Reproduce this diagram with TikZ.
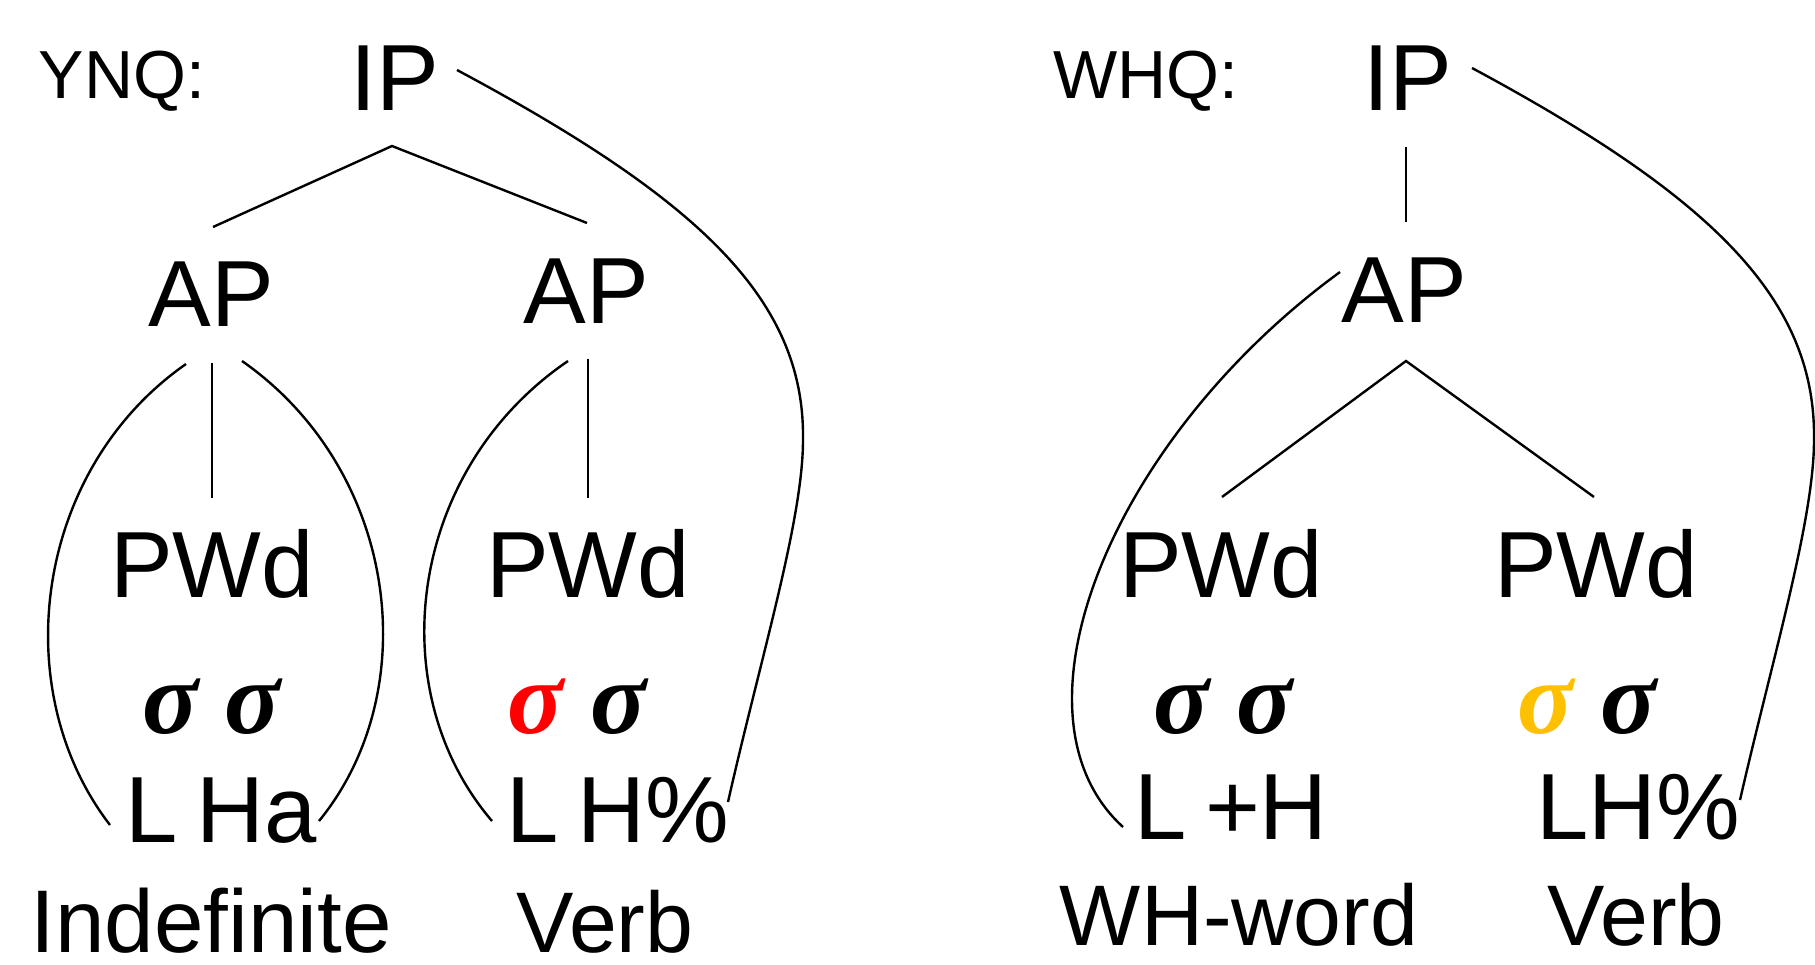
\documentclass[tikz,border=0pt]{standalone}
\usepackage{fontspec}
\setmainfont{Liberation Sans}
\newfontfamily\sigfont{Liberation Serif}
\definecolor{sigred}{RGB}{255,0,0}
\definecolor{siggold}{RGB}{255,192,0}
\tikzset{
  lbl/.style={inner sep=0pt, anchor=base, font=\fontsize{94}{100}\selectfont},
  qlbl/.style={inner sep=0pt, anchor=base, font=\fontsize{68}{72}\selectfont},
  wlbl/.style={inner sep=0pt, anchor=base, text depth=0pt, font=\fontsize{86}{90}\selectfont},
  sig/.style={inner sep=0pt, anchor=base, font=\sigfont\bfseries\itshape\fontsize{104}{110}\selectfont},
  ln/.style={line width=2.4pt, black}
}
\begin{document}
\begin{tikzpicture}[x=1pt,y=-1pt]
\useasboundingbox (0,0) rectangle (1815,964);
% ---------- left tree (YNQ) ----------
\node[qlbl] (ynq) at (122,98) {YNQ:};
\node[lbl] (ip1) at (395,110) {IP};
\node[lbl] (ap1) at (211,326) {AP};
\node[lbl] (ap2) at (586,323) {AP};
\node[lbl] (pwd1) at (212,597) {PWd};
\node[lbl] (pwd2) at (588,597) {PWd};
\node[sig] (sg1) at (212,733) {σ σ};
\node[sig] (sg2) at (577,733) {\textcolor{sigred}{σ} σ};
\node[lbl] (t1) at (221,842) {L\hspace{0.2em}Ha};
\node[lbl] (t2) at (618,842) {L\hspace{0.2em}H\%};
\node[wlbl, font=\fontsize{89}{90}\selectfont] (w1) at (211,952) {Indefinite};
\node[wlbl] (w2) at (605,952) {Verb};
% connectors
\coordinate (apexA) at (392,146);
\coordinate (ap1top) at (213,227);
\coordinate (ap2top) at (587,223);
\draw[ln] (ap1top) -- (apexA) -- (ap2top);
\coordinate (ap1v) at (212,363);
\coordinate (pwd1v) at (212,498);
\draw[ln] (ap1v) -- (pwd1v);
\coordinate (ap2v) at (588,359);
\coordinate (pwd2v) at (588,498);
\draw[ln] (ap2v) -- (pwd2v);
\coordinate (a1l0) at (186,364);
\coordinate (a1l1) at (110,825);
\draw[ln] (a1l0) .. controls (34,470) and (6,690) .. (a1l1);
\coordinate (a1r0) at (242,361);
\coordinate (a1r1) at (319,821);
\draw[ln] (a1r0) .. controls (398,470) and (426,690) .. (a1r1);
\coordinate (a2l0) at (568,361);
\coordinate (a2l1) at (492,821);
\draw[ln] (a2l0) .. controls (408,470) and (380,690) .. (a2l1);
\coordinate (ipc0) at (457,70);
\coordinate (ipcm) at (803,440);
\coordinate (ipc1) at (728,802);
\draw[ln] (ipc0) .. controls (700,200) and (805,300) .. (ipcm) .. controls (803,520) and (760,660) .. (ipc1);
% ---------- right tree (WHQ) ----------
\node[qlbl] (whq) at (1146,98) {WHQ:};
\node[lbl] (ip2) at (1408,110) {IP};
\node[lbl] (ap3) at (1404,322) {AP};
\node[lbl] (pwd3) at (1221,597) {PWd};
\node[lbl] (pwd4) at (1596,597) {PWd};
\node[sig] (sg3) at (1223,733) {σ σ};
\node[sig] (sg4) at (1587,733) {\textcolor{siggold}{σ} σ};
\node[lbl] (t3) at (1231,839) {L\hspace{0.2em}+H};
\node[lbl] (t4) at (1638,839) {LH\%};
\node[wlbl] (w3) at (1239,945) {WH-word};
\node[wlbl] (w4) at (1636,945) {Verb};
\coordinate (ip2v) at (1406,147);
\coordinate (ap3v) at (1406,222);
\draw[ln] (ip2v) -- (ap3v);
\coordinate (apexB) at (1406,361);
\coordinate (pwd3top) at (1222,497);
\coordinate (pwd4top) at (1594,497);
\draw[ln] (pwd3top) -- (apexB) -- (pwd4top);
\coordinate (a3l0) at (1340,272);
\coordinate (a3l1) at (1123,827);
\draw[ln] (a3l0) .. controls (1110,440) and (1000,715) .. (a3l1);
\coordinate (ipd0) at (1472,68);
\coordinate (ipdm) at (1814,440);
\coordinate (ipd1) at (1740,800);
\draw[ln] (ipd0) .. controls (1714,198) and (1816,300) .. (ipdm) .. controls (1814,520) and (1772,660) .. (ipd1);
\end{tikzpicture}
\end{document}
